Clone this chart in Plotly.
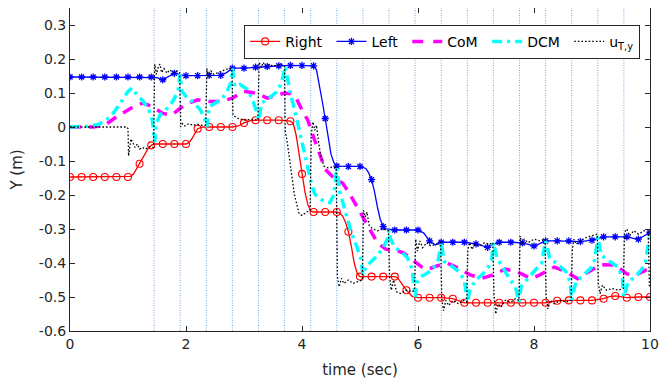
import numpy as np
import plotly.graph_objects as go

# ---------------- data ----------------
right_t = [0.0, 0.2, 0.4, 0.6, 0.8, 1.0, 1.05, 1.1, 1.2, 1.3, 1.35, 1.4, 1.45, 1.6, 1.8, 2.0, 2.05, 2.1, 2.2, 2.3,
           2.4, 2.6, 2.8, 2.9, 3.0, 3.1, 3.2, 3.4, 3.6, 3.8, 3.85, 3.9, 3.95, 4.0, 4.05, 4.1, 4.15, 4.2, 4.4, 4.6,
           4.65, 4.7, 4.75, 4.8, 4.85, 4.9, 4.95, 5.0, 5.2, 5.4, 5.6, 5.65, 5.7, 5.8, 5.9, 6.0, 6.2, 6.4, 6.6, 6.7,
           6.8, 7.0, 7.2, 7.4, 7.6, 7.8, 8.0, 8.2, 8.3, 8.4, 8.6, 8.8, 9.0, 9.2, 9.3, 9.4, 9.5, 9.6, 9.8, 10.0]
right_y = [-0.147, -0.147, -0.147, -0.147, -0.147, -0.147, -0.145, -0.137, -0.108, -0.075, -0.062, -0.054, -0.05,
           -0.05, -0.05, -0.05, -0.046, -0.035, -0.005, 0.0, 0.0, 0.0, 0.0, 0.003, 0.012, 0.018, 0.02, 0.02, 0.02,
           0.017, 0.01, -0.025, -0.08, -0.138, -0.19, -0.228, -0.247, -0.25, -0.25, -0.25, -0.253, -0.262, -0.28,
           -0.308, -0.35, -0.4, -0.43, -0.44, -0.44, -0.44, -0.44, -0.444, -0.455, -0.48, -0.498, -0.502, -0.502,
           -0.502, -0.505, -0.512, -0.517, -0.517, -0.517, -0.517, -0.517, -0.517, -0.517, -0.517, -0.514, -0.511,
           -0.51, -0.51, -0.51, -0.505, -0.499, -0.497, -0.5, -0.502, -0.5, -0.5]

left_t = [0.0, 0.2, 0.4, 0.6, 0.8, 1.0, 1.2, 1.4, 1.5, 1.6, 1.7, 1.8, 1.85, 1.9, 2.0, 2.2, 2.4, 2.6, 2.7, 2.8, 3.0,
          3.2, 3.4, 3.6, 3.8, 4.0, 4.2, 4.25, 4.3, 4.35, 4.4, 4.45, 4.5, 4.55, 4.6, 4.8, 5.0, 5.1, 5.15, 5.2, 5.25,
          5.3, 5.35, 5.4, 5.45, 5.6, 5.8, 6.0, 6.1, 6.2, 6.3, 6.4, 6.6, 6.8, 7.0, 7.1, 7.2, 7.3, 7.4, 7.6, 7.8, 7.9,
          8.0, 8.1, 8.2, 8.4, 8.6, 8.8, 9.0, 9.1, 9.2, 9.4, 9.6, 9.7, 9.8, 9.9, 10.0]
left_y = [0.147, 0.147, 0.147, 0.147, 0.147, 0.147, 0.147, 0.147, 0.145, 0.139, 0.148, 0.158, 0.157, 0.153, 0.151,
          0.151, 0.152, 0.152, 0.16, 0.173, 0.173, 0.176, 0.178, 0.18, 0.181, 0.181, 0.18, 0.168, 0.125, 0.075,
          0.025, -0.03, -0.08, -0.105, -0.115, -0.116, -0.116, -0.122, -0.135, -0.155, -0.19, -0.235, -0.272,
          -0.293, -0.3, -0.303, -0.303, -0.303, -0.312, -0.335, -0.347, -0.339, -0.339, -0.339, -0.344, -0.35,
          -0.354, -0.345, -0.339, -0.339, -0.341, -0.345, -0.35, -0.343, -0.335, -0.335, -0.335, -0.337, -0.333,
          -0.327, -0.323, -0.323, -0.323, -0.327, -0.33, -0.32, -0.31]

com_t = [0.0, 0.4, 0.6, 0.8, 1.0, 1.1, 1.25, 1.4, 1.6, 1.75, 1.9, 2.05, 2.2, 2.4, 2.6, 2.8, 3.0, 3.2, 3.4, 3.6,
         3.7, 3.8, 3.9, 4.0, 4.1, 4.2, 4.3, 4.4, 4.55, 4.7, 4.8, 4.9, 5.05, 5.15, 5.3, 5.45, 5.6, 5.75, 5.9, 6.05,
         6.15, 6.3, 6.5, 6.7, 6.9, 7.1, 7.3, 7.5, 7.7, 7.95, 8.1, 8.35, 8.55, 8.75, 8.95, 9.15, 9.4, 9.6, 9.75, 10.0]
com_y = [0.0, 0.0, 0.005, 0.03, 0.05, 0.06, 0.07, 0.062, 0.04, 0.035, 0.055, 0.07, 0.08, 0.075, 0.075, 0.085,
         0.105, 0.1, 0.085, 0.095, 0.1, 0.098, 0.085, 0.05, 0.02, -0.03, -0.08, -0.125, -0.15, -0.165, -0.19,
         -0.22, -0.27, -0.3, -0.34, -0.36, -0.362, -0.37, -0.39, -0.41, -0.42, -0.41, -0.4, -0.415, -0.435, -0.445,
         -0.435, -0.418, -0.425, -0.446, -0.435, -0.412, -0.425, -0.446, -0.425, -0.405, -0.406, -0.432, -0.436,
         -0.415]

dcm_t = [0.0, 0.3, 0.5, 0.7, 0.85, 1.0, 1.07, 1.15, 1.25, 1.35, 1.42, 1.46, 1.49, 1.55, 1.65, 1.78, 1.86, 1.9,
         1.93, 2.0, 2.13, 2.25, 2.33, 2.36, 2.4, 2.5, 2.6, 2.7, 2.77, 2.8, 2.84, 2.93, 3.05, 3.15, 3.22, 3.26, 3.3,
         3.42, 3.56, 3.65, 3.71, 3.8, 3.9, 4.0, 4.1, 4.16, 4.22, 4.3, 4.4, 4.48, 4.55, 4.6, 4.65, 4.75, 4.85, 4.95,
         5.02, 5.05, 5.1, 5.2, 5.3, 5.4, 5.47, 5.5, 5.53, 5.6, 5.7, 5.82, 5.9, 5.95, 5.99, 6.06, 6.15, 6.25, 6.35,
         6.4, 6.45, 6.55, 6.7, 6.8, 6.85, 6.9, 7.0, 7.12, 7.22, 7.27, 7.3, 7.36, 7.47, 7.57, 7.68, 7.74, 7.78, 7.9,
         8.05, 8.13, 8.2, 8.27, 8.4, 8.55, 8.62, 8.65, 8.72, 8.85, 8.98, 9.05, 9.1, 9.16, 9.3, 9.45, 9.52, 9.55,
         9.62, 9.75, 9.85, 9.92, 10.0]
dcm_y = [0.0, 0.002, 0.008, 0.03, 0.065, 0.105, 0.115, 0.095, 0.078, 0.055, 0.02, -0.045, 0.01, 0.035, 0.05,
         0.078, 0.105, 0.155, 0.105, 0.09, 0.072, 0.05, 0.02, 0.0, 0.06, 0.07, 0.08, 0.1, 0.13, 0.172, 0.12, 0.125,
         0.112, 0.08, 0.045, 0.02, 0.07, 0.083, 0.103, 0.13, 0.178, 0.1, 0.03, -0.05, -0.12, -0.165, -0.197, -0.21,
         -0.22, -0.222, -0.2, -0.12, -0.19, -0.25, -0.31, -0.355, -0.39, -0.435, -0.41, -0.395, -0.378, -0.355,
         -0.33, -0.303, -0.33, -0.355, -0.365, -0.385, -0.42, -0.5, -0.455, -0.44, -0.43, -0.42, -0.39, -0.339,
         -0.395, -0.405, -0.425, -0.45, -0.515, -0.475, -0.45, -0.432, -0.41, -0.39, -0.34, -0.385, -0.415, -0.445,
         -0.47, -0.515, -0.468, -0.445, -0.415, -0.4, -0.335, -0.385, -0.403, -0.425, -0.455, -0.51, -0.456,
         -0.435, -0.415, -0.39, -0.323, -0.378, -0.393, -0.412, -0.44, -0.5, -0.456, -0.44, -0.42, -0.4, -0.31]

u_t = [0.0, 0.98, 1.0, 1.01, 1.03, 1.05, 1.08, 1.12, 1.16, 1.2, 1.25, 1.3, 1.37, 1.44, 1.46, 1.49, 1.52, 1.55,
       1.58, 1.62, 1.67, 1.72, 1.78, 1.85, 1.89, 1.91, 1.94, 1.98, 2.05, 2.12, 2.2, 2.28, 2.34, 2.36, 2.39, 2.43,
       2.48, 2.55, 2.62, 2.7, 2.79, 2.81, 2.85, 2.9, 3.0, 3.1, 3.24, 3.26, 3.3, 3.33, 3.38, 3.45, 3.5, 3.58, 3.65,
       3.7, 3.71, 3.75, 3.8, 3.87, 3.95, 4.0, 4.08, 4.14, 4.16, 4.19, 4.22, 4.25, 4.29, 4.33, 4.38, 4.45, 4.52,
       4.59, 4.61, 4.64, 4.68, 4.72, 4.8, 4.88, 4.96, 5.04, 5.06, 5.09, 5.12, 5.16, 5.22, 5.3, 5.4, 5.49, 5.51,
       5.54, 5.58, 5.63, 5.7, 5.8, 5.9, 5.94, 5.96, 5.99, 6.03, 6.08, 6.15, 6.22, 6.3, 6.39, 6.41, 6.44, 6.48,
       6.53, 6.6, 6.7, 6.78, 6.84, 6.86, 6.89, 6.93, 6.98, 7.05, 7.15, 7.22, 7.29, 7.31, 7.34, 7.38, 7.43, 7.5,
       7.6, 7.68, 7.74, 7.76, 7.79, 7.83, 7.9, 8.0, 8.1, 8.19, 8.21, 8.24, 8.28, 8.35, 8.45, 8.55, 8.64, 8.66,
       8.69, 8.73, 8.8, 8.9, 9.0, 9.09, 9.11, 9.14, 9.18, 9.25, 9.35, 9.45, 9.54, 9.56, 9.6, 9.65, 9.72, 9.8,
       9.9, 9.97, 9.99]
u_y = [0.0, 0.0, -0.005, -0.085, -0.06, -0.035, -0.045, -0.06, -0.05, -0.065, -0.06, -0.065, -0.058, -0.06,
       0.185, 0.155, 0.175, 0.185, 0.16, 0.172, 0.158, 0.168, 0.16, 0.165, 0.16, 0.0, 0.01, 0.003, 0.01, 0.005,
       0.008, 0.005, 0.006, 0.172, 0.148, 0.165, 0.155, 0.16, 0.165, 0.17, 0.172, 0.035, 0.03, 0.025, 0.02, 0.022,
       0.02, 0.19, 0.175, 0.19, 0.178, 0.185, 0.178, 0.182, 0.185, 0.178, -0.01, -0.05, -0.12, -0.2, -0.255,
       -0.26, -0.25, -0.245, -0.02, 0.015, -0.01, 0.005, -0.05, -0.09, -0.115, -0.12, -0.118, -0.12, -0.44, -0.47,
       -0.445, -0.46, -0.45, -0.46, -0.455, -0.45, -0.245, -0.265, -0.25, -0.29, -0.3, -0.305, -0.3, -0.305,
       -0.44, -0.48, -0.45, -0.485, -0.49, -0.48, -0.485, -0.48, -0.33, -0.365, -0.335, -0.355, -0.34, -0.35,
       -0.345, -0.34, -0.505, -0.54, -0.51, -0.525, -0.51, -0.52, -0.51, -0.515, -0.36, -0.34, -0.36, -0.345,
       -0.35, -0.34, -0.345, -0.34, -0.49, -0.55, -0.52, -0.53, -0.51, -0.515, -0.505, -0.51, -0.32, -0.345,
       -0.33, -0.34, -0.33, -0.335, -0.33, -0.5, -0.535, -0.51, -0.52, -0.51, -0.515, -0.51, -0.36, -0.33,
       -0.345, -0.335, -0.325, -0.32, -0.315, -0.46, -0.49, -0.465, -0.48, -0.475, -0.48, -0.475, -0.31, -0.3,
       -0.32, -0.305, -0.315, -0.305, -0.31, -0.47]

step_times = [1.45, 1.9, 2.35, 2.8, 3.25, 3.7, 4.15, 4.6, 5.05, 5.5, 5.95, 6.4, 6.85, 7.3, 7.75, 8.2, 8.65, 9.1, 9.55]

x_ticks = [0, 2, 4, 6, 8, 10]
y_ticks = [-0.6, -0.5, -0.4, -0.3, -0.2, -0.1, 0, 0.1, 0.2, 0.3]
y_tick_text = ["-0.6", "-0.5", "-0.4", "-0.3", "-0.2", "-0.1", "0", "0.1", "0.2", "0.3"]

legend_names = ["Right", "Left", "CoM", "DCM", "u<sub>T,y</sub>"]

# ---------------- figure ----------------
FONT = "DejaVu Sans"
AX = "#262626"
PAD = "\u00a0"


def on_grid(t):
    t = np.asarray(t)
    return np.isclose(t / 0.2, np.round(t / 0.2))


fig = go.Figure()

rt, ry = np.array(right_t), np.array(right_y)
lt, ly = np.array(left_t), np.array(left_y)
rm, lm = on_grid(rt), on_grid(lt)

red_marker = dict(symbol="circle-open", size=7, color="red", line=dict(width=1.1, color="red"))
blue_marker = dict(symbol="asterisk-open", size=6, color="blue", line=dict(width=1.3, color="blue"))
com_line = dict(color="magenta", width=3.5, dash="11px,8px")
dcm_line = dict(color="cyan", width=3.5, dash="10px,5px,3px,5px")
u_line = dict(color="black", width=1.3, dash="1.6px,2px")

for ts in step_times:
    fig.add_vline(x=ts, line=dict(color="rgba(70,140,210,0.75)", width=1, dash="1px,1.5px"), layer="below")

fig.add_trace(go.Scatter(x=rt, y=ry, mode="lines", line=dict(color="red", width=1.3), showlegend=False))
fig.add_trace(go.Scatter(x=rt[rm], y=ry[rm], mode="markers", marker=red_marker, showlegend=False))
fig.add_trace(go.Scatter(x=lt, y=ly, mode="lines", line=dict(color="blue", width=1.3), showlegend=False))
fig.add_trace(go.Scatter(x=lt[lm], y=ly[lm], mode="markers", marker=blue_marker, showlegend=False))
fig.add_trace(go.Scatter(x=com_t, y=com_y, mode="lines", line=com_line, showlegend=False))
fig.add_trace(go.Scatter(x=dcm_t, y=dcm_y, mode="lines", line=dcm_line, showlegend=False))
fig.add_trace(go.Scatter(x=u_t, y=u_y, mode="lines", line=u_line, showlegend=False))

# legend entries
fig.add_trace(go.Scatter(x=[None], y=[None], mode="lines+markers", name=legend_names[0] + PAD,
                         line=dict(color="red", width=1.3), marker=red_marker))
fig.add_trace(go.Scatter(x=[None], y=[None], mode="lines+markers", name=legend_names[1] + PAD,
                         line=dict(color="blue", width=1.3), marker=blue_marker))
fig.add_trace(go.Scatter(x=[None], y=[None], mode="lines", name=legend_names[2] + PAD,
                         line=dict(color="magenta", width=3.5, dash="11px,10px")))
fig.add_trace(go.Scatter(x=[None], y=[None], mode="lines", name=legend_names[3] + PAD, line=dcm_line))
fig.add_trace(go.Scatter(x=[None], y=[None], mode="lines", name=legend_names[4], line=u_line))

# the page body has an 8px default margin: size the figure so the plot lands where the reference has it
fig.update_layout(
    width=663, height=371,
    margin=dict(l=62, r=21, t=0, b=48),
    paper_bgcolor="white", plot_bgcolor="white",
    font=dict(family=FONT, size=14, color=AX),
    legend=dict(orientation="h", x=0.983, xanchor="right", y=0.948, yanchor="top",
                bgcolor="white", bordercolor=AX, borderwidth=1,
                font=dict(family=FONT, size=14, color="black"), tracegroupgap=0),
    xaxis=dict(range=[0, 10], tickvals=x_ticks, ticks="inside", ticklen=5, tickcolor=AX,
               showline=True, linecolor=AX, linewidth=1, mirror="ticks", showgrid=False, zeroline=False,
               title=dict(text="time (sec)", font=dict(size=15, color=AX), standoff=13),
               tickfont=dict(size=14, color=AX)),
    yaxis=dict(range=[-0.6, 0.35], tickvals=y_ticks, ticktext=y_tick_text, ticks="inside", ticklen=5,
               tickcolor=AX, showline=True, linecolor=AX, linewidth=1, mirror="ticks", showgrid=False,
               zeroline=False, title=dict(text="Y (m)", font=dict(size=15, color=AX), standoff=13),
               tickfont=dict(size=14, color=AX)),
)

fig.write_html("out.html")
